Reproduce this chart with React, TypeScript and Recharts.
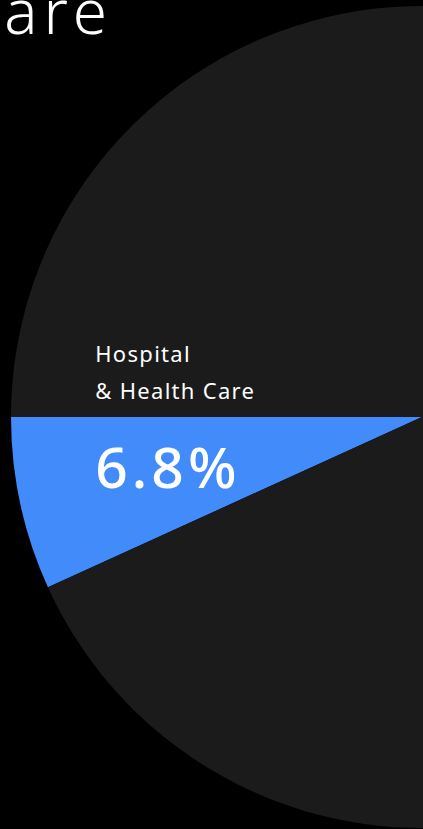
import { Cell, Pie, PieChart } from "recharts";

const categories = ["Hospital\n& Health Care", "Other"];
const shares = [6.8, 93.2];
const sliceColors = ["#418bfa", "#1b1b1b"];
const titleText = "Health Care";

const W = 423;
const H = 829;
const FONT = "'Noto Sans', 'Open Sans', sans-serif";

const chartData = categories.map((name, i) => ({ name, value: shares[i] }));

function SliceLabel(props: any) {
  const { cx, cy, outerRadius, index, name, value } = props;
  if (index !== 0) return null;
  const x = cx - outerRadius * 0.795;
  const lines = String(name).split("\n");
  return (
    <g>
      {lines.map((line, i) => (
        <text
          key={i}
          x={x}
          y={cy - 55 + i * 37}
          fill="#ffffff"
          fontSize={22}
          letterSpacing={1.3}
          fontFamily={FONT}
        >
          {line}
        </text>
      ))}
      <text
        x={x}
        y={cy + 71}
        fill="#ffffff"
        fontSize={57}
        fontWeight={500}
        letterSpacing={4}
        fontFamily={FONT}
      >
        {value.toFixed(1)}%
      </text>
    </g>
  );
}

export default function App() {
  return (
    <div
      style={{
        position: "fixed",
        left: 0,
        top: 0,
        width: W,
        height: H,
        background: "#000000",
        overflow: "hidden",
      }}
    >
      <PieChart width={W} height={H} margin={{ top: 0, right: 0, bottom: 0, left: 0 }}>
        <Pie
          data={chartData}
          dataKey="value"
          nameKey="name"
          cx={422}
          cy={417}
          outerRadius={411}
          startAngle={180}
          endAngle={540}
          stroke="none"
          label={SliceLabel}
          labelLine={false}
          isAnimationActive={false}
        >
          {chartData.map((d, i) => (
            <Cell key={d.name} fill={sliceColors[i]} />
          ))}
        </Pie>
      </PieChart>
      <svg
        width={W}
        height={80}
        style={{ position: "absolute", left: 0, top: 0, pointerEvents: "none" }}
      >
        <text
          x={113}
          y={34}
          textAnchor="end"
          fill="#ffffff"
          fontSize={62}
          fontWeight={300}
          letterSpacing={6}
          fontFamily={FONT}
        >
          {titleText}
        </text>
      </svg>
    </div>
  );
}
